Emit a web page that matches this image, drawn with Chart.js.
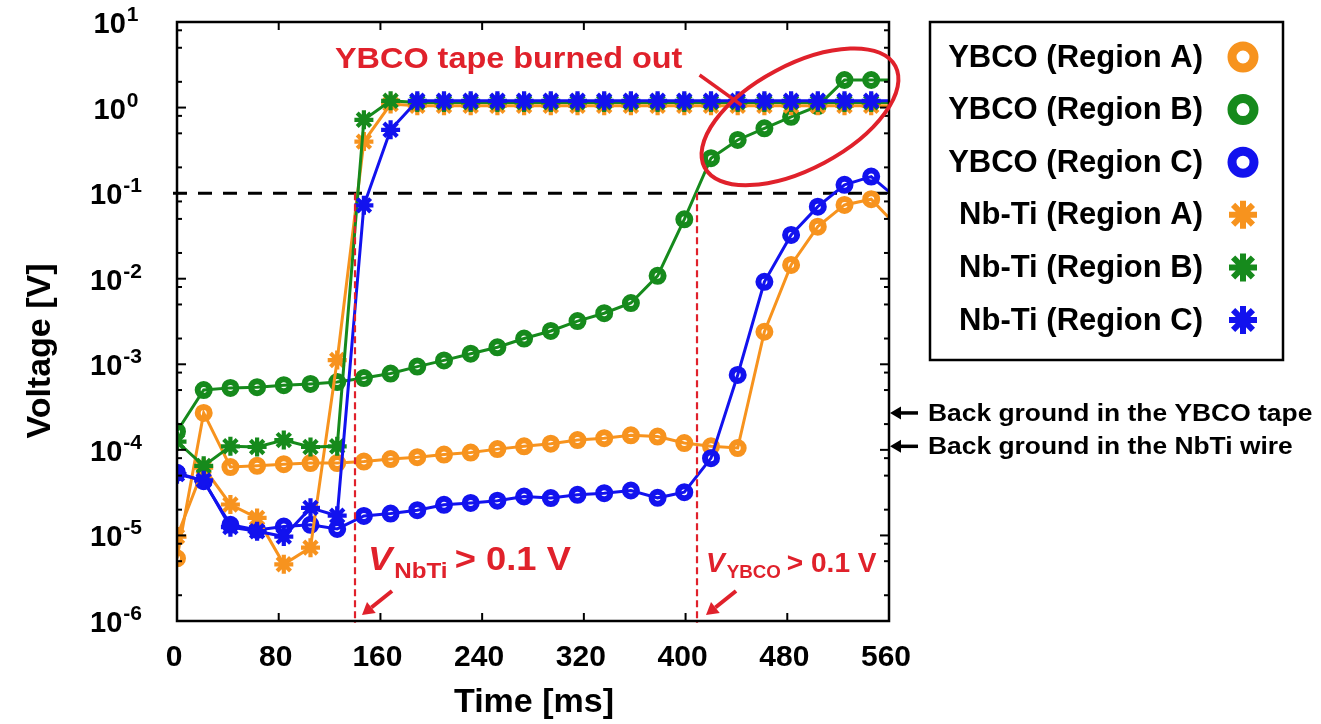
<!DOCTYPE html>
<html>
<head>
<meta charset="utf-8">
<script src="https://cdn.jsdelivr.net/npm/chart.js@4.4.1/dist/chart.umd.min.js"></script>
<style>
  html, body { margin: 0; padding: 0; background: #fff; overflow: hidden; }
  canvas { display: block; }
</style>
</head>
<body>
<canvas id="c" width="1321" height="724"></canvas>
<script>
// Sampling times [ms]; the last sample lies just past the axis end and is clipped.
const timeMs = [0, 21, 42, 63, 84, 105, 126, 147, 168, 189, 210, 231, 252, 273,
                294, 315, 336, 357, 378, 399, 420, 441, 462, 483, 504, 525, 546, 567];

// Voltages [V]
const ybcoA = [5.4e-6, 2.7e-4, 6.3e-5, 6.5e-5, 6.8e-5, 7.0e-5, 7.0e-5, 7.3e-5, 7.8e-5, 8.2e-5,
               8.8e-5, 9.3e-5, 1.02e-4, 1.1e-4, 1.18e-4, 1.3e-4, 1.37e-4, 1.48e-4, 1.43e-4, 1.2e-4,
               1.1e-4, 1.05e-4, 2.4e-3, 0.0145, 0.0406, 0.0728, 0.085, 0.040];
const ybcoB = [1.64e-4, 5.0e-4, 5.3e-4, 5.4e-4, 5.7e-4, 5.9e-4, 6.2e-4, 6.9e-4, 7.8e-4, 9.4e-4,
               1.11e-3, 1.33e-3, 1.58e-3, 2.0e-3, 2.45e-3, 3.2e-3, 3.95e-3, 5.2e-3, 1.08e-2, 0.0495,
               0.256, 0.418, 0.573, 0.78, 1.04, 2.1, 2.1, 2.1];
const ybcoC = [5.4e-5, 4.3e-5, 1.33e-5, 1.16e-5, 1.27e-5, 1.33e-5, 1.19e-5, 1.69e-5, 1.8e-5, 1.97e-5,
               2.28e-5, 2.4e-5, 2.55e-5, 2.85e-5, 2.73e-5, 2.98e-5, 3.12e-5, 3.35e-5, 2.75e-5, 3.2e-5,
               8.0e-5, 7.5e-4, 9.2e-3, 0.0325, 0.0695, 0.125, 0.156, 0.085];
const nbtiA = [9.7e-6, 6.2e-5, 2.3e-5, 1.6e-5, 4.6e-6, 7.2e-6, 1.12e-3, 0.40, 1.1, 1.05,
               1.05, 1.05, 1.05, 1.05, 1.05, 1.05, 1.05, 1.05, 1.05, 1.05,
               1.05, 1.05, 1.05, 1.05, 1.05, 1.05, 1.05, 1.05];
const nbtiB = [1.25e-4, 6.5e-5, 1.1e-4, 1.08e-4, 1.3e-4, 1.08e-4, 1.1e-4, 0.72, 1.2, 1.15,
               1.15, 1.15, 1.15, 1.15, 1.15, 1.15, 1.15, 1.15, 1.15, 1.15,
               1.15, 1.15, 1.15, 1.15, 1.15, 1.15, 1.15, 1.15];
const nbtiC = [5.2e-5, 4.4e-5, 1.25e-5, 1.12e-5, 9.7e-6, 2.1e-5, 1.7e-5, 0.072, 0.55, 1.2,
               1.2, 1.2, 1.2, 1.2, 1.2, 1.2, 1.2, 1.2, 1.2, 1.2,
               1.2, 1.2, 1.2, 1.2, 1.2, 1.2, 1.2, 1.2];

const seriesLabels = ['YBCO (Region A)', 'YBCO (Region B)', 'YBCO (Region C)',
                      'Nb-Ti (Region A)', 'Nb-Ti (Region B)', 'Nb-Ti (Region C)'];

// Axis ticks
const xTickValues = [0, 80, 160, 240, 320, 400, 480, 560];
const yDecadeExponents = [-6, -5, -4, -3, -2, -1, 0, 1];
const yMinorMultipliers = [2, 5, 8];

// Threshold criterion and the times it is crossed
const thresholdVoltage = 0.1;
const nbtiCrossTime = 140;
const ybcoCrossTime = 409;

// Background levels marked on the right axis
const ybcoBackground = 2.7e-4;
const nbtiBackground = 1.1e-4;

const ORANGE = '#f7931e';
const GREEN = '#168a1c';
const BLUE = '#1212ee';
const RED = '#e0212b';
const FONT = "'Liberation Sans', Arial, Helvetica, sans-serif";

function makeSet(label, values, color, style, order) {
  const star = style === 'star';
  return {
    label,
    data: timeMs.map((t, i) => ({ x: t, y: values[i] })),
    borderColor: color,
    backgroundColor: 'rgba(0,0,0,0)',
    borderWidth: 3,
    pointStyle: style,
    pointRadius: star ? 9.5 : 6,
    pointBorderWidth: star ? 4.2 : 6,
    pointBorderColor: color,
    pointBackgroundColor: 'rgba(0,0,0,0)',
    tension: 0,
    order
  };
}

const datasets = [
  makeSet(seriesLabels[0], ybcoA, ORANGE, 'circle', 6),
  makeSet(seriesLabels[1], ybcoB, GREEN, 'circle', 5),
  makeSet(seriesLabels[2], ybcoC, BLUE, 'circle', 4),
  makeSet(seriesLabels[3], nbtiA, ORANGE, 'star', 3),
  makeSet(seriesLabels[4], nbtiB, GREEN, 'star', 2),
  makeSet(seriesLabels[5], nbtiC, BLUE, 'star', 1)
];

function line(ctx, x1, y1, x2, y2) {
  ctx.beginPath(); ctx.moveTo(x1, y1); ctx.lineTo(x2, y2); ctx.stroke();
}

// text drawn with an optional horizontal stretch
function wideText(ctx, txt, x, y, sx) {
  ctx.save();
  ctx.translate(x, y);
  ctx.scale(sx, 1);
  ctx.fillText(txt, 0, 0);
  ctx.restore();
  return ctx.measureText(txt).width * sx;
}

function arrow(ctx, x1, y1, x2, y2, color, width, headLen, headHalf) {
  const ang = Math.atan2(y2 - y1, x2 - x1);
  const bx = x2 - headLen * Math.cos(ang), by = y2 - headLen * Math.sin(ang);
  ctx.save();
  ctx.strokeStyle = color; ctx.fillStyle = color; ctx.lineWidth = width;
  line(ctx, x1, y1, bx, by);
  ctx.beginPath();
  ctx.moveTo(x2, y2);
  ctx.lineTo(bx + headHalf * Math.sin(ang), by - headHalf * Math.cos(ang));
  ctx.lineTo(bx - headHalf * Math.sin(ang), by + headHalf * Math.cos(ang));
  ctx.closePath(); ctx.fill();
  ctx.restore();
}

// "V_sub > 0.1 V" style label drawn piece by piece
function subscriptLabel(ctx, x, y, sub, main, subSize, sx) {
  ctx.save();
  ctx.fillStyle = RED; ctx.textBaseline = 'alphabetic'; ctx.textAlign = 'left';
  ctx.font = `italic bold ${main}px ${FONT}`;
  let cx = x + wideText(ctx, 'V', x, y, sx) + 2;
  ctx.font = `bold ${subSize}px ${FONT}`;
  cx += wideText(ctx, sub, cx, y + main * 0.24, sx) + main * 0.22;
  ctx.font = `bold ${main}px ${FONT}`;
  wideText(ctx, '> 0.1 V', cx, y, sx);
  ctx.restore();
}

const overlay = {
  id: 'overlay',
  beforeDatasetsDraw(chart) {
    const { ctx, chartArea: a, scales: { y } } = chart;
    const py = y.getPixelForValue(thresholdVoltage);
    ctx.save();
    ctx.strokeStyle = '#000'; ctx.lineWidth = 3; ctx.setLineDash([14, 11]);
    line(ctx, a.left - 4, py, a.right, py);
    ctx.restore();
  },
  afterDatasetsDraw(chart) {
    const { ctx, chartArea: a, scales: { x, y } } = chart;
    const pyT = y.getPixelForValue(thresholdVoltage);

    // vertical threshold markers
    ctx.save();
    ctx.strokeStyle = RED; ctx.lineWidth = 2.2; ctx.setLineDash([7, 4]);
    [nbtiCrossTime, ybcoCrossTime].forEach(t => {
      const px = x.getPixelForValue(t);
      line(ctx, px, pyT, px, a.bottom + 2);
    });
    ctx.restore();

    // frame
    ctx.save();
    ctx.strokeStyle = '#000'; ctx.lineWidth = 2.5;
    ctx.strokeRect(a.left, a.top, a.right - a.left, a.bottom - a.top);

    // inward ticks
    ctx.lineWidth = 2;
    xTickValues.forEach(v => {
      const px = x.getPixelForValue(v);
      line(ctx, px, a.bottom, px, a.bottom - 8);
      line(ctx, px, a.top, px, a.top + 8);
    });
    yDecadeExponents.forEach(e => {
      const py = y.getPixelForValue(Math.pow(10, e));
      line(ctx, a.left, py, a.left + 9, py);
      line(ctx, a.right, py, a.right - 9, py);
      if (e < 1) {
        yMinorMultipliers.forEach(m => {
          const pm = y.getPixelForValue(m * Math.pow(10, e));
          line(ctx, a.left, pm, a.left + 5, pm);
          line(ctx, a.right, pm, a.right - 5, pm);
        });
      }
    });
    ctx.restore();

    // burned-out annotation
    ctx.save();
    ctx.strokeStyle = RED; ctx.lineWidth = 4;
    const ex = x.getPixelForValue(490), ey = y.getPixelForValue(0.78);
    ctx.beginPath();
    ctx.ellipse(ex, ey, 108, 52, -28 * Math.PI / 180, 0, Math.PI * 2);
    ctx.stroke();
    ctx.lineWidth = 3.5;
    line(ctx, x.getPixelForValue(411), y.getPixelForValue(2.4),
              x.getPixelForValue(444), y.getPixelForValue(1.07));
    ctx.fillStyle = RED; ctx.font = `bold 30px ${FONT}`;
    ctx.textAlign = 'left'; ctx.textBaseline = 'alphabetic';
    wideText(ctx, 'YBCO tape burned out', a.left + 158, a.top + 46, 1.08);
    ctx.restore();

    // threshold labels and arrows
    const xN = x.getPixelForValue(nbtiCrossTime);
    const xY = x.getPixelForValue(ybcoCrossTime);
    subscriptLabel(ctx, xN + 13, a.bottom - 51, 'NbTi', 33, 22, 1.1);
    subscriptLabel(ctx, xY + 9, a.bottom - 49, 'YBCO', 27, 18, 1.04);
    arrow(ctx, xN + 37, a.bottom - 30, xN + 7, a.bottom - 6, RED, 4, 12, 7);
    arrow(ctx, xY + 39, a.bottom - 30, xY + 9, a.bottom - 6, RED, 4, 12, 7);
  },
  afterDraw(chart) {
    const { ctx, chartArea: a, scales: { x, y } } = chart;
    ctx.save();
    ctx.fillStyle = '#000';

    // x tick labels
    ctx.font = `bold 30px ${FONT}`;
    ctx.textAlign = 'center'; ctx.textBaseline = 'middle';
    xTickValues.forEach(v => ctx.fillText(String(v), x.getPixelForValue(v) - 3, a.bottom + 37));

    // y tick labels: 10 with a raised exponent
    yDecadeExponents.forEach(e => {
      const py = y.getPixelForValue(Math.pow(10, e));
      const exp = e < 0 ? '-' + Math.abs(e) : String(e);
      ctx.font = `bold 29px ${FONT}`;
      const wb = ctx.measureText('10').width;
      ctx.font = `bold 21px ${FONT}`;
      const we = ctx.measureText(exp).width;
      const left = 116 - (wb + we + 1) / 2;
      ctx.textAlign = 'left'; ctx.textBaseline = 'alphabetic';
      ctx.font = `bold 29px ${FONT}`;
      ctx.fillText('10', left, py + 11);
      ctx.font = `bold 21px ${FONT}`;
      ctx.fillText(exp, left + wb + 1, py - 1);
    });

    // axis titles
    ctx.font = `bold 34px ${FONT}`;
    ctx.textAlign = 'center'; ctx.textBaseline = 'middle';
    ctx.fillText('Time [ms]', (a.left + a.right) / 2 + 1, a.bottom + 82);
    ctx.save();
    ctx.translate(41, 351);
    ctx.rotate(-Math.PI / 2);
    ctx.fillText('Voltage [V]', 0, 0);
    ctx.restore();

    // background level notes on the right axis
    [[ybcoBackground, 'Back ground in the YBCO tape'],
     [nbtiBackground, 'Back ground in the NbTi wire']].forEach(([v, txt]) => {
      const py = y.getPixelForValue(v);
      arrow(ctx, a.right + 29, py, a.right + 1, py, '#000', 3.5, 11, 6.5);
      ctx.fillStyle = '#000';
      ctx.font = `bold 24px ${FONT}`;
      ctx.textAlign = 'left'; ctx.textBaseline = 'middle';
      wideText(ctx, txt, a.right + 39, py + 1, 1.1);
    });

    // legend
    const box = { l: 930, t: 22, r: 1283, b: 360 };
    ctx.strokeStyle = '#000'; ctx.lineWidth = 2.5;
    ctx.strokeRect(box.l, box.t, box.r - box.l, box.b - box.t);
    chart.data.datasets.forEach((ds, i) => {
      const cy = box.t + 35 + i * 52.6;
      ctx.fillStyle = '#000';
      ctx.font = `bold 31px ${FONT}`;
      ctx.textAlign = 'right'; ctx.textBaseline = 'middle';
      ctx.fillText(ds.label, box.l + 273, cy + 1);
      const star = ds.pointStyle === 'star';
      ctx.strokeStyle = ds.borderColor;
      ctx.fillStyle = 'rgba(0,0,0,0)';
      ctx.lineWidth = star ? 6 : 9;
      Chart.helpers.drawPoint(ctx, {
        pointStyle: ds.pointStyle, radius: star ? 14 : 11, rotation: 0, borderWidth: star ? 6 : 9
      }, box.l + 313, cy);
    });
    ctx.restore();
  }
};

new Chart(document.getElementById('c'), {
  type: 'line',
  data: { datasets },
  options: {
    responsive: false,
    devicePixelRatio: 1,
    animation: false,
    layout: { padding: { left: 177, top: 22, right: 432, bottom: 103 } },
    scales: {
      x: { type: 'linear', min: 0, max: 560, display: false },
      y: { type: 'logarithmic', min: 1e-6, max: 10, display: false }
    },
    plugins: { legend: { display: false }, tooltip: { enabled: false } }
  },
  plugins: [overlay]
});
</script>
</body>
</html>
